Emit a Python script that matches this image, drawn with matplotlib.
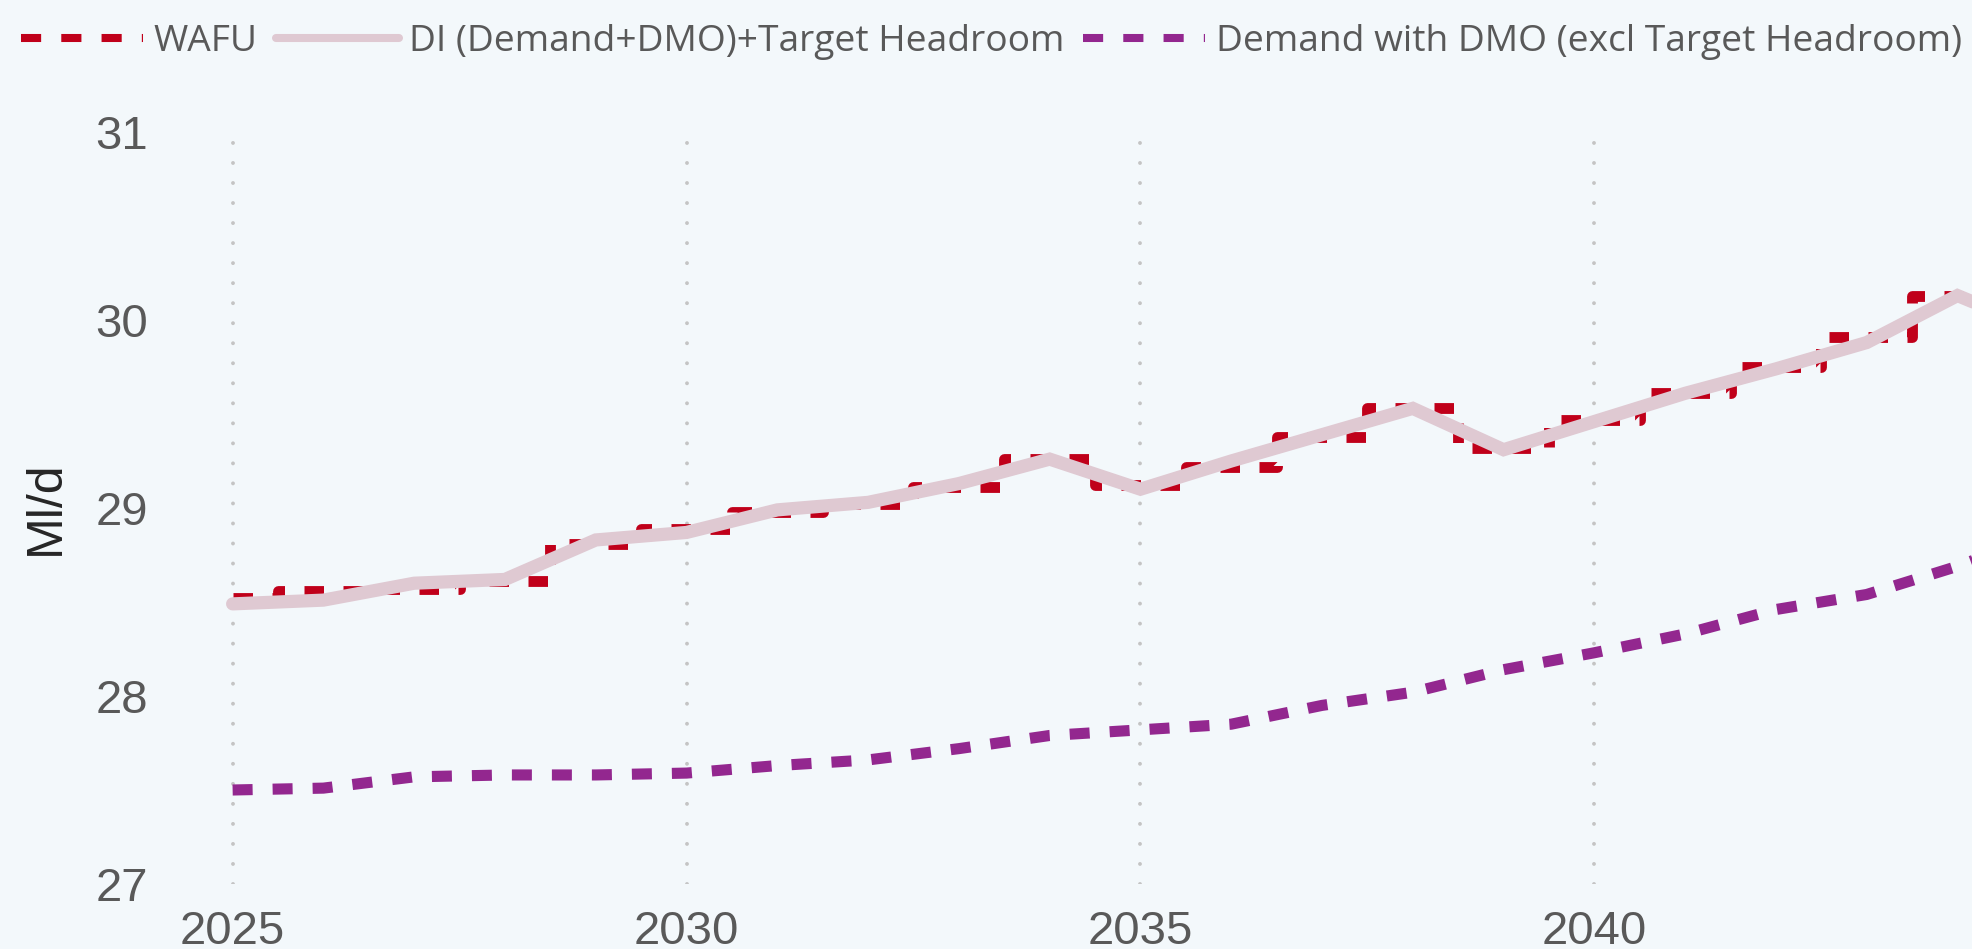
import matplotlib.pyplot as plt
from matplotlib.lines import Line2D

# Data (Ml/d)
years = list(range(2025, 2046))
wafu = [28.52, 28.56, 28.57, 28.61, 28.81, 28.89, 28.98, 29.02, 29.11, 29.26, 29.12,
        29.22, 29.38, 29.53, 29.32, 29.47, 29.61, 29.75, 29.91, 30.13, 29.94]
di_headroom = [28.49, 28.51, 28.60, 28.62, 28.83, 28.87, 28.99, 29.03, 29.13, 29.26, 29.10,
               29.25, 29.39, 29.53, 29.31, 29.46, 29.61, 29.74, 29.88, 30.13, 29.93]
demand_dmo = [27.50, 27.51, 27.57, 27.58, 27.58, 27.59, 27.63, 27.66, 27.72, 27.79, 27.82,
              27.85, 27.95, 28.02, 28.14, 28.23, 28.33, 28.46, 28.54, 28.69, 28.87]

labels = ['WAFU', 'DI (Demand+DMO)+Target Headroom', 'Demand with DMO (excl Target Headroom)']
colors = ['#C0001A', '#DFC9D2', '#93278F']
bg = '#F3F8FB'

fig = plt.figure(figsize=(19.72, 9.49), dpi=100, facecolor=bg)
ax = fig.add_axes([160 / 1972, 1 - 884 / 949, 1812 / 1972, (884 - 132) / 949])
ax.set_facecolor(bg)

ax.plot(years, demand_dmo, color=colors[2], lw=8, linestyle=(0, (1.8, 1.8)),
        dash_capstyle='butt', zorder=2)
ax.plot(years, wafu, color=colors[0], lw=7.8, linestyle=(0, (1.8, 1.8)), drawstyle='steps-mid',
        dash_capstyle='butt', dash_joinstyle='round', zorder=3)
ax.plot(years, di_headroom, color=colors[1], lw=9.5, solid_capstyle='round',
        solid_joinstyle='miter', zorder=4)

ax.set_xticks([2025, 2030, 2035, 2040, 2045])
ax.set_yticks([27, 28, 29, 30, 31])
ax.set_xlim(2024.2, 2044.16)
ax.set_ylim(27, 31)

# dotted vertical gridlines only
ax.grid(axis='x', color='#C4C4C4', lw=2.8, linestyle=(0, (0.01, 5.14)),
        dash_capstyle='round')
ax.set_axisbelow(True)
for s in ax.spines.values():
    s.set_visible(False)

ax.tick_params(axis='both', length=0, labelsize=34, labelcolor='#595959')
ax.tick_params(axis='x', pad=19)
ax.tick_params(axis='y', pad=8.5)
for t in ax.get_xticklabels() + ax.get_yticklabels():
    t.set_fontfamily('Liberation Sans')

ax.set_ylabel('Ml/d', fontsize=36, color='#262626', family='Liberation Sans')
ax.yaxis.set_label_coords(-0.0502, 0.5)

handles = [
    Line2D([], [], color=colors[0], lw=5.8, linestyle=(0, (2.5, 2.5)), dash_capstyle='butt'),
    Line2D([], [], color=colors[1], lw=5.8, solid_capstyle='round'),
    Line2D([], [], color=colors[2], lw=5.8, linestyle=(0, (2.5, 2.5)), dash_capstyle='butt'),
]
leg = fig.legend(handles, labels, loc='center left', bbox_to_anchor=(21 / 1972, 1 - 42 / 949),
                 ncol=3, frameon=False, borderpad=0, borderaxespad=0,
                 handlelength=3.3, handletextpad=0.28, columnspacing=0.5,
                 prop={'family': 'Open Sans', 'size': 26.7})
for t in leg.get_texts():
    t.set_color('#595959')

fig.savefig('out.png', dpi=100, facecolor=bg)
